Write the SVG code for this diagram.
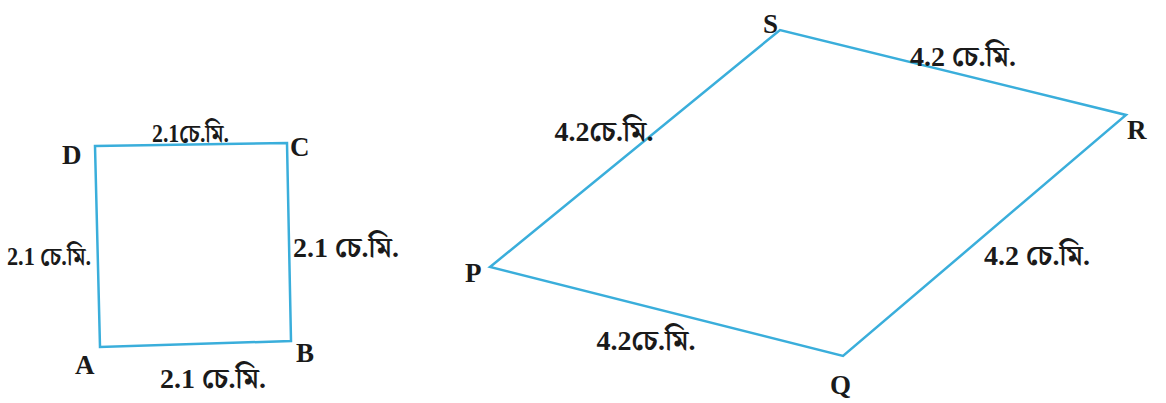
<svg xmlns="http://www.w3.org/2000/svg" width="1166" height="403" viewBox="0 0 1166 403">
<style>
.edge{fill:none;stroke:#3aaedb;stroke-width:2.5;stroke-linejoin:miter}
.v{font-family:"Liberation Serif",serif;font-weight:bold;font-size:27px;fill:#1a1a1a}
.m{font-family:"Liberation Serif","Noto Serif Bengali","Noto Sans Bengali","Noto Sans",serif;font-weight:bold;font-size:28px;fill:#1a1a1a;text-anchor:middle}
.s{font-size:26px;text-anchor:start}
</style>
<rect width="1166" height="403" fill="#ffffff"/>
<g id="connectors">
<polygon class="edge" points="95,146 287,143 291,341 100,347"/>
<polygon class="edge" points="490,267 780,30 1126,115 843,356"/>
</g>
<g id="node-A"><text class="v" x="75" y="374">A</text></g>
<g id="node-B"><text class="v" x="296" y="362">B</text></g>
<g id="node-C"><text class="v" x="290" y="156">C</text></g>
<g id="node-D"><text class="v" x="62" y="164">D</text></g>
<g id="node-P"><text class="v" x="465" y="282">P</text></g>
<g id="node-Q"><text class="v" x="830" y="394">Q</text></g>
<g id="node-R"><text class="v" x="1127" y="139">R</text></g>
<g id="node-S"><text class="v" x="763" y="33">S</text></g>
<g id="labels">
<text class="m s" x="152" y="142" textLength="77" lengthAdjust="spacingAndGlyphs">2.1চে.মি.</text>
<text class="m s" x="7" y="265" textLength="84" lengthAdjust="spacingAndGlyphs">2.1 চে.মি.</text>
<text class="m" x="346" y="257">2.1 চে.মি.</text>
<text class="m" x="213" y="388">2.1 চে.মি.</text>
<text class="m" x="963" y="66">4.2 চে.মি.</text>
<text class="m" x="604" y="141">4.2চে.মি.</text>
<text class="m" x="1037" y="265">4.2 চে.মি.</text>
<text class="m" x="646" y="350">4.2চে.মি.</text>
</g>
</svg>
